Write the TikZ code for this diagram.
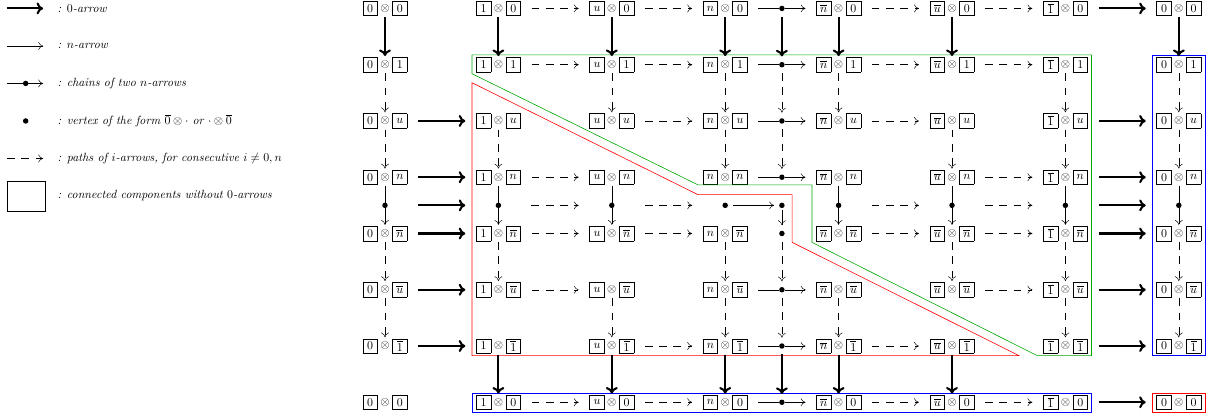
\documentclass[tikz,border=0pt]{standalone}
\usepackage{amsmath}
\usetikzlibrary{arrows.meta}
\setlength{\fboxsep}{2.7pt}
\newcommand{\bx}[1]{\vcenter{\hbox{\fbox{\vbox to 6.4pt{\vss\hbox to 6.5pt{\hss$#1$\hss}\vss}}}}}

\begin{document}
\begin{tikzpicture}[x=47.63pt, y=-47.26pt,
    vx/.style={inner sep=0pt, outer xsep=9pt, outer ysep=1pt},
    dotpic/.style={inner sep=0pt, path picture={\fill (path picture bounding box.center) circle (2.3pt);}},
    wdot/.style={dotpic, minimum width=37.6pt, minimum height=4.6pt, outer xsep=9pt, outer ysep=0pt},
    cdot/.style={dotpic, minimum width=4.6pt, minimum height=14pt, outer sep=0pt},
    tdot/.style={circle, fill, inner sep=0pt, minimum size=4.6pt, outer sep=0pt},
    zarr/.style={-{To[length=5.5pt, width=10pt]}, line width=1.75pt},
    narr/.style={-{To[length=4pt, width=6.5pt]}},
    parr/.style={-{To[length=4pt, width=6.5pt]}, dash pattern=on 6.5pt off 5.5pt},
    legtext/.style={anchor=west, inner sep=0pt, font=\itshape}]
  \useasboundingbox (-6.79,-0.15) rectangle (14.603,7.298);

  % legend
  \coordinate (k1a) at (-6.667,0); \coordinate (k1b) at (-6.03,0);
  \draw[zarr] (k1a) -- (k1b);
  \node[legtext] (t1) at (-5.78,0) {: $0$-arrow};
  \coordinate (k2a) at (-6.667,0.667); \coordinate (k2b) at (-6.03,0.667);
  \draw[narr] (k2a) -- (k2b);
  \node[legtext] (t2) at (-5.78,0.667) {: $n$-arrow};
  \coordinate (k3a) at (-6.667,1.333); \coordinate (k3b) at (-6.03,1.333);
  \node[tdot] (k3m) at (-6.337,1.333) {};
  \draw (k3a) -- (k3m); \draw[narr] (k3m) -- (k3b);
  \node[legtext] (t3) at (-5.78,1.333) {: chains of two $n$-arrows};
  \node[tdot] (k4) at (-6.337,2) {};
  \node[legtext] (t4) at (-5.78,2) {: vertex of the form $\overline{0}\otimes\cdot$ or $\cdot\otimes\overline{0}$};
  \coordinate (k5a) at (-6.667,2.667); \coordinate (k5b) at (-6.03,2.667);
  \draw[parr] (k5a) -- (k5b);
  \node[legtext] (t5) at (-5.78,2.667) {: paths of $i$-arrows, for consecutive $i\neq 0,n$};
  \node[draw, minimum width=31.9pt, minimum height=25.2pt] (k6) at (-6.33,3.333) {};
  \node[legtext] (t6) at (-5.78,3.333) {: connected components without $0$-arrows};

  % vertices
  \foreach \c/\x/\a in {A/0/0, B/2/1, C/4/u, D/6/n, F/8/\overline{n}, G/10/\overline{u}, H/12/\overline{1}, I/14/0}
    \foreach \r/\y/\b in {0/0/0, 1/1/1, 2/2/u, 3/3/n, 5/4/\overline{n}, 6/5/\overline{u}, 7/6/\overline{1}, 8/7/0}
      \node[vx] (\c\r) at (\x,\y) {$\bx{\a}\otimes\bx{\b}$};
  \foreach \r/\y in {0/0, 1/1, 2/2, 3/3, 5/4, 6/5, 7/6, 8/7}
    \node[cdot] (E\r) at (7,\y) {};
  \foreach \c/\x in {A/0, B/2, C/4, D/6, F/8, G/10, H/12, I/14}
    \node[wdot] (\c4) at (\x,3.5) {};
  \node[tdot] (E4) at (7,3.5) {};

  % components
  \draw[green!65!black, line width=0.5pt] (1.534,0.825) -- (12.46,0.825) -- (12.46,6.17) -- (11.5,6.17)
    -- (7.53,4.158) -- (7.53,3.136) -- (5.52,3.136) -- (1.534,1.16) -- cycle;
  \draw[red, line width=0.5pt] (1.534,1.32) -- (5.52,3.31) -- (7.18,3.31) -- (7.18,4.158)
    -- (11.18,6.17) -- (1.534,6.17) -- cycle;
  \draw[blue, line width=0.5pt] (13.53,0.825) rectangle (14.46,6.17);
  \draw[blue, line width=0.5pt] (1.534,6.84) rectangle (12.46,7.175);
  \draw[red, line width=0.5pt] (13.53,6.84) rectangle (14.46,7.175);

  % 0-arrows
  \foreach \p/\q in {A0/A1, B0/B1, C0/C1, D0/D1, E0/E1, F0/F1, G0/G1, I0/I1,
      B7/B8, C7/C8, D7/D8, E7/E8, F7/F8, G7/G8,
      A2/B2, A3/B3, A4/B4, A5/B5, A6/B6, A7/B7,
      H0/I0, H2/I2, H3/I3, H4/I4, H5/I5, H6/I6, H7/I7, H8/I8}
    \draw[zarr] (\p) -- (\q);

  % chains of two n-arrows
  \foreach \r in {0,1,2,3,6,7,8}
    {\draw (D\r) -- (E\r); \draw[narr] (E\r) -- (F\r);}
  \foreach \c in {A,B,C,F,G,H,I}
    {\draw (\c3) -- (\c4); \draw[narr] (\c4) -- (\c5);}
  \draw[narr, shorten <=6.7pt, shorten >=4.3pt] (D4.center) -- (E4);
  \draw[narr, shorten <=1.5pt] (E4) -- (E5);

  % paths of i-arrows
  \foreach \p/\q in {B0/C0, C0/D0, F0/G0, G0/H0, B1/C1, C1/D1, F1/G1, G1/H1,
      C2/D2, F2/G2, B3/C3, G3/H3, B4/C4, C4/D4, F4/G4, G4/H4,
      B5/C5, C5/D5, F5/G5, G5/H5, B6/C6, G6/H6, C7/D7, F7/G7,
      B8/C8, C8/D8, F8/G8, G8/H8,
      A1/A2, A2/A3, A5/A6, A6/A7, B2/B3, B5/B6, C1/C2, C6/C7,
      D1/D2, D2/D3, D5/D6, D6/D7, E1/E2, E2/E3, E5/E6, E6/E7,
      F1/F2, F6/F7, G2/G3, G5/G6, H1/H2, H2/H3, H5/H6, H6/H7,
      I1/I2, I2/I3, I5/I6, I6/I7}
    \draw[parr] (\p) -- (\q);
\end{tikzpicture}
\end{document}
